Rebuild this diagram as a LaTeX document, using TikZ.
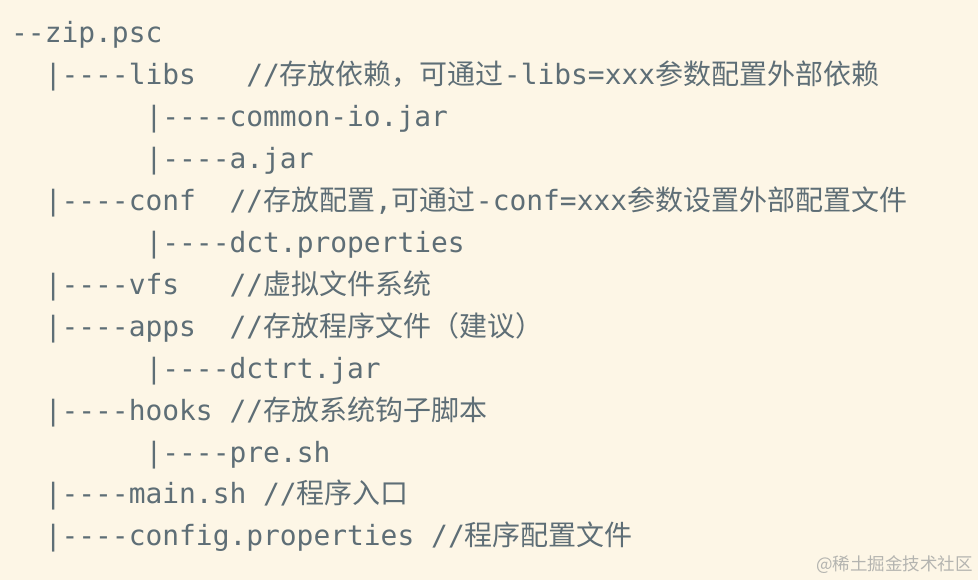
\documentclass[tikz,border=0pt]{standalone}
\usepackage{fontspec}
\setmonofont{DejaVu Sans Mono}
\newfontfamily\cjk{Noto Sans CJK SC}
\usepackage{tikz}
\usetikzlibrary{positioning}
\definecolor{mpaper}{HTML}{FDF6E6}
\definecolor{mtext}{HTML}{5E6E76}
\definecolor{mmark}{HTML}{B4B4B0}
\newcommand{\code}{\ttfamily\fontsize{27.9}{32}\selectfont}
\newcommand{\zh}[1]{{\cjk\fontsize{28}{32}\selectfont #1}}
\tikzset{line/.style = {anchor = base west, inner sep = 0, text = mtext, font = \code}}
\tikzset{stamp/.style = {anchor = base east, inner sep = 0, text = mmark,
                         font = \cjk\fontsize{17.5}{20}\selectfont}}

\begin{document}
\begin{tikzpicture}[x = 1pt, y = -1pt]
    \fill [mpaper] (0, 0) rectangle (978, 580);
    \useasboundingbox (0, 0) rectangle (978, 580);

    % tree, one node per column entry
    \node [line] (root) at (11, 43) {--zip.psc};
    \node [line] (libs) at (44.6, 84.9) {|----libs};
    \node [line] (libsnote) at (246.2, 84.9) {//\zh{存放依赖，可通过}-libs=xxx\zh{参数配置外部依赖}};
    \node [line] (commonio) at (145.4, 126.8) {|----common-io.jar};
    \node [line] (ajar) at (145.4, 168.7) {|----a.jar};
    \node [line] (conf) at (44.6, 210.6) {|----conf};
    \node [line] (confnote) at (229.4, 210.6) {//\zh{存放配置},\zh{可通过}-conf=xxx\zh{参数设置外部配置文件}};
    \node [line] (dct) at (145.4, 252.5) {|----dct.properties};
    \node [line] (vfs) at (44.6, 294.4) {|----vfs};
    \node [line] (vfsnote) at (229.4, 294.4) {//\zh{虚拟文件系统}};
    \node [line] (apps) at (44.6, 336.3) {|----apps};
    \node [line] (appsnote) at (229.4, 336.3) {//\zh{存放程序文件（建议）}};
    \node [line] (dctrt) at (145.4, 378.2) {|----dctrt.jar};
    \node [line] (hooks) at (44.6, 420.1) {|----hooks};
    \node [line] (hooksnote) at (229.4, 420.1) {//\zh{存放系统钩子脚本}};
    \node [line] (presh) at (145.4, 462) {|----pre.sh};
    \node [line] (mainsh) at (44.6, 503.9) {|----main.sh};
    \node [line] (mainnote) at (263, 503.9) {//\zh{程序入口}};
    \node [line] (config) at (44.6, 545.8) {|----config.properties};
    \node [line] (confignote) at (431, 545.8) {//\zh{程序配置文件}};

    \node [stamp] (watermark) at (973, 570) {@稀土掘金技术社区};
  \end{tikzpicture}
\end{document}
